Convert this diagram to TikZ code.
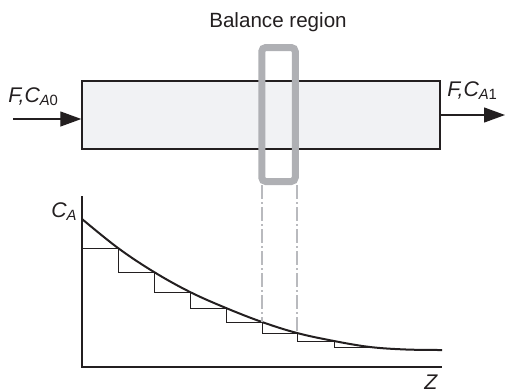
\documentclass[tikz,border=0pt]{standalone}
\usepackage{fontspec}
\setmainfont{Liberation Sans}
\usepackage{xcolor}
\usepackage{tikz}
\usetikzlibrary{arrows.meta,positioning,calc}
\definecolor{ink}{RGB}{35,31,32}
\definecolor{tubefill}{RGB}{241,242,244}
\definecolor{boxgray}{RGB}{175,176,180}
\definecolor{guidegray}{RGB}{185,186,190}

\begin{document}
\begin{tikzpicture}[
      x=0.5pt,y=-0.5pt,
      >={Triangle[length=10.5pt,width=7.5pt]},
      tube/.style={draw=ink,line width=0.7pt,fill=tubefill,minimum width=179pt,
                   minimum height=34pt,inner sep=0pt},
      balbox/.style={draw=boxgray,line width=3.5pt,rounded corners=2pt,
                     minimum width=16.75pt,minimum height=67pt,inner sep=0pt},
      flow/.style={->,line width=0.6pt,color=ink},
      guide/.style={line width=0.6pt,color=guidegray,
                    dash pattern=on 7pt off 1.5pt on 1pt off 1.5pt},
      lbl/.style={font=\fontsize{10.6}{12}\selectfont\itshape,color=ink,inner sep=0pt},
    ]
    \useasboundingbox (0,0) rectangle (506,391);
    % reactor tube and balance region
    \node[tube] (tube) at (261,115) {};
    \node[balbox] (box) at (278.5,114.5) {};
    \node[font=\fontsize{10.3}{12}\selectfont,color=ink] (title) at (278,22) {Balance region};
    % feed and outlet streams
    \coordinate (feed) at (13,119);
    \coordinate (exit) at (505,115);
    \draw[flow] (feed) -- (feed -| tube.west);
    \draw[flow] (exit -| tube.east) -- (exit);
    \node[lbl,anchor=base west] (cin)  at (8,102)   {F,C\textsubscript{A\upshape 0}};
    \node[lbl,anchor=base west] (cout) at (447,96)  {F,C\textsubscript{A\upshape 1}};
    % concentration profile
    \draw[ink,line width=0.65pt] (82,196) -- (82,367) -- (442,367);
    \node[lbl,anchor=base west] (ca) at (51,217) {C\textsubscript{A}};
    \node[lbl,anchor=base west] (z)  at (424,389) {Z};
    \coordinate (p0) at (82,219);  \coordinate (p1) at (118,248);
    \coordinate (p2) at (154,272); \coordinate (p3) at (190,292);
    \coordinate (p4) at (226,308); \coordinate (p5) at (262,322);
    \coordinate (p6) at (297,333); \coordinate (p7) at (334,341);
    \coordinate (p8) at (370,347);
    \draw[ink,line width=0.45pt] (p0 |- p1) -- (p1) -- (p1 |- p2) -- (p2) -- (p2 |- p3) -- (p3)
      -- (p3 |- p4) -- (p4) -- (p4 |- p5) -- (p5) -- (p5 |- p6) -- (p6)
      -- (p6 |- p7) -- (p7) -- (p7 |- p8) -- (p8);
    \draw[ink,line width=1pt] plot[smooth,tension=0.6] coordinates
      {(p0) (p1) (p2) (p3) (p4) (p5) (p6) (p7) (p8) (406,349.5) (442,350)};
    \draw[guide] (p5 |- box.south) -- (p5);
    \draw[guide] (p6 |- box.south) -- (p6);
  \end{tikzpicture}
\end{document}
